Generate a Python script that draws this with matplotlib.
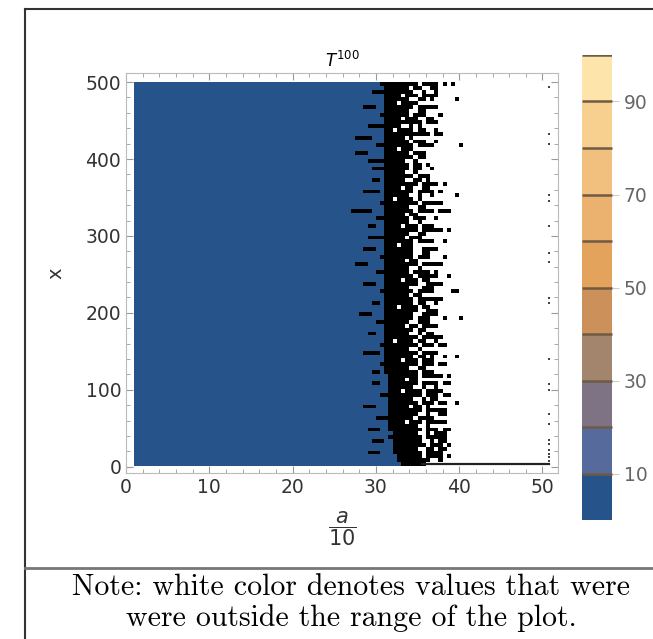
import numpy as np
import matplotlib
matplotlib.use("Agg")
import matplotlib.pyplot as plt
from matplotlib.colors import ListedColormap, BoundaryNorm
import matplotlib.colorbar as mcolorbar

# band colours of the legend, 0..100 in steps of 10
levels = [0, 10, 20, 30, 40, 50, 60, 70, 80, 90, 100]
band_colors = ["#26538a", "#566b9b", "#7d7384", "#a3856d", "#cc915a",
               "#e3a35c", "#ebb26f", "#f1c07e", "#f7d08f", "#fde4ab"]
cbar_ticks = [10, 30, 50, 70, 90]

# T^100 over the grid a/10 = 1..42, x = 500..1 (rows of 5)
# b = lowest band (blue), k = crowded contour lines (black), . = out of range
# strings start at a/10 = 26, everything left of that is blue
rows = [
    "bbbbbbbbbkkkkkkkkk.kkkk.k.k",
    "bbbbbbbbbbkkkkkk.kk..kk",
    "bbbbbbbkkkkkkkkkk..k..k",
    "bbbbbbbbbbkkkk.kkk.kkkk",
    "bbbbbbbbbbkkkkkk..kk.k.....k",
    "bbbbbbbbbbkkk.kkkk",
    "bbbbbkkkbbkkkkkkk.kkkkk",
    "bbbbbbbbbbkkkkkk..kk",
    "bbbbbbbbbkkkkkkk.kkk...k",
    "bbbbbbbbbbkkkk.kkk..kk",
    "bbbbbbbbbbkkkkkkkkk.kkk",
    "bbbbbbkkkkkkkk..k.k",
    "bbbbbbbbbbkk.kkkk.kk..k",
    "bbbbbbbbbbkkkkkkkkkkk.kk",
    "bbbkkkkbbbkkkkk.k",
    "bbbbbbbbbbkkkkkk.kkk..k",
    "bbbbbbbbkkkkkkkkk.kkkk......k",
    "bbbbbbbbbbkkk.kkk",
    "bbbkkkbbbbkkkkkk.kkk",
    "bbbbbbbbbbkkkkkkk.kk",
    "bbbbbbkkkkkkkkk..k",
    "bbbbbbbbbbkkkkkk.kk.k",
    "bbbbbbbkkkkkkkkk.kk..k",
    "bbbbbbbbbbkkkkk..k",
    "bbbbbbbbbbkkkkkkk.kkk",
    "bbbbbbbkkbkkkkk..kk.k",
    "bbbbbbbbbbkkkkkkkk.kkkk.k",
    "bbbbbbbbbbkkkk.kk..kk",
    "bbbbbkkkkbkkkkkkk.kkkk.k",
    "bbbbbbbbbbkkkkkk..k..k.....k",
    "bbbbbbbbbbkk.kkkk.k",
    "bbbbbbbbbkkkkkkkkk.kkkkk",
    "bbbbbbbbbbkkkkkk..kk",
    "bbkkkkkbbbkkkkkkk.kkkk.kkk",
    "bbbbbbbbbbkkkkk.kk",
    "bbbbbbbbkkkkkkkk.kkk..k",
    "bbbbbbbbbbkkkkkk..k",
    "bbbbbbkkbbkkkk.kkk.kkk",
    "bbbbbbbbbbkkkkkkkk.kkkkk.k",
    "bbbbbbbbbbkkkkkk..kk",
    "bbbbbbkkkkkkkkk.kkk",
    "bbbbbbbbbbkkkkkkk.kkkk..k",
    "bbbbbbbbbbkkk.kkk",
    "bbbbbkkkbbkkkkkkk..kkkk",
    "bbbbbbbbbbkkkkkkk..kk",
    "bbbbbbbbbkkkkkkkk.kkk...k",
    "bbbbbbbbbbkkkkk.kk",
    "bbbkkkbbbbkkkkkkkk.kkkkk",
    "bbbbbbbbbbkkkkkk..k",
    "bbbbbbbbkkkkkkkk.kkkk.k",
    "bbbbbbbbbbkkkkkkk.kkkkk..k",
    "bbbbbbbbbbkkkk.kkk.kk",
    "bbbbbkkkbbkkkkkkkk..kkkk",
    "bbbbbbbbbbkkkkkk...kkk",
    "bbbbbbbbbkkkkkkkk.kkkk....kk",
    "bbbbbbbbbbkkkkkk.kk",
    "bbbbbbbbbbkkkkkkk.kkkkkk",
    "bbbbbbbkkbkkkkkkk.kk..k",
    "bbbbbbbbbbkkk.kkkk.kk",
    "bbbbbbbbbbkkkkkkkk..kkk",
    "bbbbkkkbbbkkkkkkk..kkkk",
    "bbbbbbbbbbkkkkkkk.kkk...k...k",
    "bbbbbbbbkkkkkkkk..kkk",
    "bbbbbbbbbbkkkkk.kk.kkkk",
    "bbbbbbbbbbkkkkkkk.kk",
    "bbbbbbkkbbkkkkkk..k.kk",
    "bbbbbbbbbbkkkkkkkk.kkkkk",
    "bbbbbbbbbbkk.kkkk.kk..k",
    "bbbbbbbbbkkkkkkkkk.kkk.kk",
    "bbbbbbbbbbkkkkkk..k",
    "bbbbbkkkkbkkkkkkkk.kkkk",
    "bbbbbbbbbbkkkkkkk.kk.k..k..k",
    "bbbbbbbbbbkkkk.kkk.kkk",
    "bbbbbbbbbkkkkkkkkk.kkk.kk",
    "bbbbbbbbbbkkkkkk..kk",
    "bbbbbbbkkbkkkkkkkk.kkk",
    "bbbbbbbbbbbkkkkkkk.kkkkk.k",
    "bbbbbbbbbbbkkkk.kk",
    "bbbbbbbkkbbkkkkkkk.kkkk.kk",
    "bbbbbbbbbbbkkkkkk..k..k",
    "bbbbbbbbbbbkkk.kkkk.kkkk",
    "bbbbbbbbbkkkkkkkkkk.kkk.kk",
    "bbbbbbbbbbbkkkkkk..k.kk",
    "bbbbbbbbbbbkkkkkkk.kkk.kk..k",
    "bbbbbkkkbbbkkkkk.kk.k",
    "bbbbbbbbbbbkkkkkkkk.kkkkk",
    "bbbbbbbbbbbkkkkkkk..k..kk",
    "bbbbbbbbkkkkkkkkk.kkkk",
    "bbbbbbbbbbbkkkk.kkk.kkkkk",
    "bbbbbbbbbbbkkkkkkk..k",
    "bbbbbbkkkbbkkkkkkkk.kkk.kk",
    "bbbbbbbbbbbbkkkkkk..k.kkk",
    "bbbbbbbbbbbkkkkkkkk.kkkkk",
    "bbbbbbbkkkbbkkkkkkk..k.kk",
    "bbbbbbbbbbbbkkkkkkkk.kkk.k",
    "bbbbbbbbbbbbkkkkkk..kk.kk",
    "bbbbbbkkkbbbkkkkkkk.kkkk",
    "bbbbbbbbbbbbbkkkkkk.kkkk.k",
    "bbbbbbbbbbbbbkkkkkkkk..k",
    "bbbbbbbbbbbbbbkkkkkk",
]

# lone points along a/10 = 50.8 and the line along the bottom
edge_a = 50.8
edge_x = [494, 433, 419, 353, 346, 313, 278, 266, 219, 213, 140, 107,
          100, 68, 55, 35, 30, 22, 17, 12, 8]
floor_a = [35.5, 50.8]
floor_x = [4, 4]

code = {"b": 0, "k": 1, ".": 2}
grid = np.array([[0] * 50 + [code[c] for c in r.ljust(32, ".")[:32]] for r in rows])
a_edges = np.arange(1, 42.01, 0.5)
x_edges = np.linspace(500, 1, len(rows) + 1)

fig = plt.figure(figsize=(6.53, 6.39), dpi=100)
ax = fig.add_axes([0.193, 0.26, 0.662, 0.626])

ax.pcolormesh(a_edges, x_edges, grid, cmap=ListedColormap([band_colors[0], "black", "white"]),
              vmin=-0.5, vmax=2.5, antialiased=False, rasterized=True)
ax.plot(floor_a, floor_x, color="#222222", lw=1.6)
ax.scatter([edge_a] * len(edge_x), edge_x, marker="s", s=4, color="#444444", lw=0)

ax.set_xlim(0.1, 51.9)
ax.set_ylim(-8, 512)
ax.set_xticks([0, 10, 20, 30, 40, 50])
ax.set_xticks(np.arange(0, 52, 2), minor=True)
ax.set_yticks([0, 100, 200, 300, 400, 500])
ax.set_yticks(np.arange(0, 512, 20), minor=True)
for s in ax.spines.values():
    s.set_color("#bbbbbb")
ax.tick_params(which="both", direction="in", top=True, right=True, color="#999999",
               labelsize=13.5, labelcolor="#333333")
ax.tick_params(which="major", length=5)
ax.tick_params(which="minor", length=3)

ax.set_title(r"$T^{\mathrm{100}}$", fontsize=12, pad=4)
ax.set_ylabel("x", fontsize=14, color="#333333")
ax.yaxis.set_label_coords(-0.141, 0.5)
ax.set_xlabel(r"$\dfrac{a}{10}$", fontsize=15, color="#333333")
ax.xaxis.label.set_va("center")
ax.xaxis.set_label_coords(0.5, -0.14)

cax = fig.add_axes([0.891, 0.186, 0.046, 0.728])
cb = mcolorbar.ColorbarBase(cax, cmap=ListedColormap(band_colors),
                            norm=BoundaryNorm(levels, len(band_colors)),
                            ticks=cbar_ticks, drawedges=True)
cb.outline.set_visible(False)
cb.dividers.set_color("#6e5a45")
cb.dividers.set_linewidth(1.8)
cb.dividers.set_capstyle("butt")
cax.minorticks_off()
cax.axhline(100, color="#6e5a45", lw=1.8, solid_capstyle="butt")
cax.tick_params(length=5, color="#cccccc", labelsize=13.5, labelcolor="#666666")

# frame around the figure and the note
fig.add_artist(plt.Line2D([0.038, 0.038], [0, 0.986], color="#333333", lw=1.5))
fig.add_artist(plt.Line2D([0.038, 1], [0.986, 0.986], color="#333333", lw=1.5))
fig.add_artist(plt.Line2D([0.038, 1], [0.111, 0.111], color="#777777", lw=2))
fig.text(0.538, 0.081, "Note: white color denotes values that were", family="cmr10",
         fontsize=21.5, ha="center", va="center")
fig.text(0.538, 0.033, "were outside the range of the plot.", family="cmr10",
         fontsize=21.5, ha="center", va="center")

fig.savefig("out.png", dpi=100)
